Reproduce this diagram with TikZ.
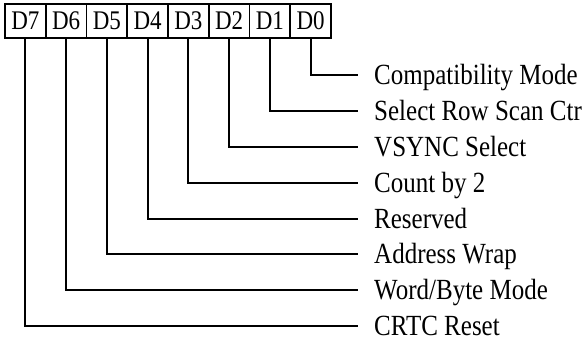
\documentclass[tikz,border=0pt]{standalone}
\usepackage{fontspec}
\setmainfont{Liberation Serif}
\usepackage{tikz}
\usetikzlibrary{positioning}
\tikzstyle{bitbox} = [rectangle, draw, line width=1.8pt, minimum width=40.75pt, minimum height=29pt, yscale=1.17, transform shape, inner sep=0pt, outer sep=0pt, font=\fontsize{23}{24}\selectfont]
\tikzstyle{fieldlabel} = [anchor=west, inner xsep=16pt, inner ysep=0pt, text height=16.5pt, text depth=0pt, yscale=1.17, transform shape, font=\fontsize{25}{28}\selectfont]
\tikzstyle{wire} = [line width=2pt]

\begin{document}
\begin{tikzpicture}[x=1pt, y=-1pt]
        \useasboundingbox (0,0) rectangle (586,342);

        % register bits
        \node (d7) [bitbox] at (25.4,21) {D7};
        \node (d6) [bitbox, right=0pt of d7] {D6};
        \node (d5) [bitbox, right=0pt of d6] {D5};
        \node (d4) [bitbox, right=0pt of d5] {D4};
        \node (d3) [bitbox, right=0pt of d4] {D3};
        \node (d2) [bitbox, right=0pt of d3] {D2};
        \node (d1) [bitbox, right=0pt of d2] {D1};
        \node (d0) [bitbox, right=0pt of d1] {D0};

        % bit functions
        \node (f0) [fieldlabel] at (358,75) {Compatibility Mode};
        \node (f1) [fieldlabel] at (358,111) {Select Row Scan Ctr};
        \node (f2) [fieldlabel] at (358,147) {VSYNC Select};
        \node (f3) [fieldlabel] at (358,183) {Count by 2};
        \node (f4) [fieldlabel] at (358,219) {Reserved};
        \node (f5) [fieldlabel] at (358,254) {Address Wrap};
        \node (f6) [fieldlabel] at (358,290) {Word/Byte Mode};
        \node (f7) [fieldlabel] at (358,326) {CRTC Reset};

        \draw [wire] (d0.south) |- (f0.west);
        \draw [wire] (d1.south) |- (f1.west);
        \draw [wire] (d2.south) |- (f2.west);
        \draw [wire] (d3.south) |- (f3.west);
        \draw [wire] (d4.south) |- (f4.west);
        \draw [wire] (d5.south) |- (f5.west);
        \draw [wire] (d6.south) |- (f6.west);
        \draw [wire] (d7.south) |- (f7.west);
    \end{tikzpicture}
\end{document}
